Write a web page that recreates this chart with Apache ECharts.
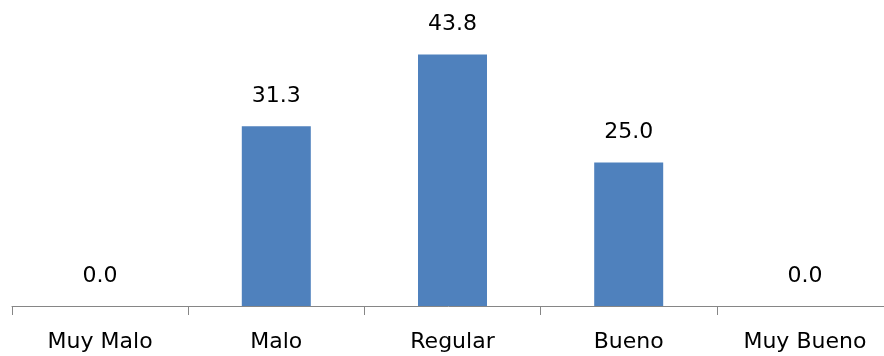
<!DOCTYPE html>
<html>
<head>
<meta charset="utf-8">
<script src="https://cdn.jsdelivr.net/npm/echarts@6/dist/echarts.min.js"></script>
<style>
  html, body { margin: 0; padding: 0; background: #fff; }
  #chart { width: 884px; height: 356px; }
</style>
</head>
<body>
<div id="chart"></div>
<script>
// Rating categories and their percentage shares
const categories = ['Muy Malo', 'Malo', 'Regular', 'Bueno', 'Muy Bueno'];
const percentages = [0.0, 31.3, 43.8, 25.0, 0.0];

const chart = echarts.init(document.getElementById('chart'), null, { renderer: 'canvas' });

const FONT = '"DejaVu Sans", sans-serif';

chart.setOption({
  animation: false,
  backgroundColor: '#ffffff',
  // plot area runs slightly past the right edge of the canvas
  grid: { left: 12, right: -9, top: 19, bottom: 50, containLabel: false, outerBoundsMode: 'none' },
  xAxis: {
    type: 'category',
    data: categories,
    axisLine: { show: true, lineStyle: { color: '#868686', width: 1 } },
    axisTick: { show: true, length: 9, alignWithLabel: false, lineStyle: { color: '#868686' } },
    axisLabel: { color: '#000', fontFamily: FONT, fontSize: 22, margin: 25 },
    splitLine: { show: false }
  },
  yAxis: {
    type: 'value',
    min: 0,
    max: 50,
    show: false
  },
  series: [{
    type: 'bar',
    data: percentages,
    barWidth: 69,
    itemStyle: { color: '#4F81BD' },
    label: {
      show: true,
      position: 'top',
      distance: 19,
      color: '#000',
      fontFamily: FONT,
      fontSize: 22,
      formatter: p => p.value.toFixed(1)
    }
  }]
});
</script>
</body>
</html>
